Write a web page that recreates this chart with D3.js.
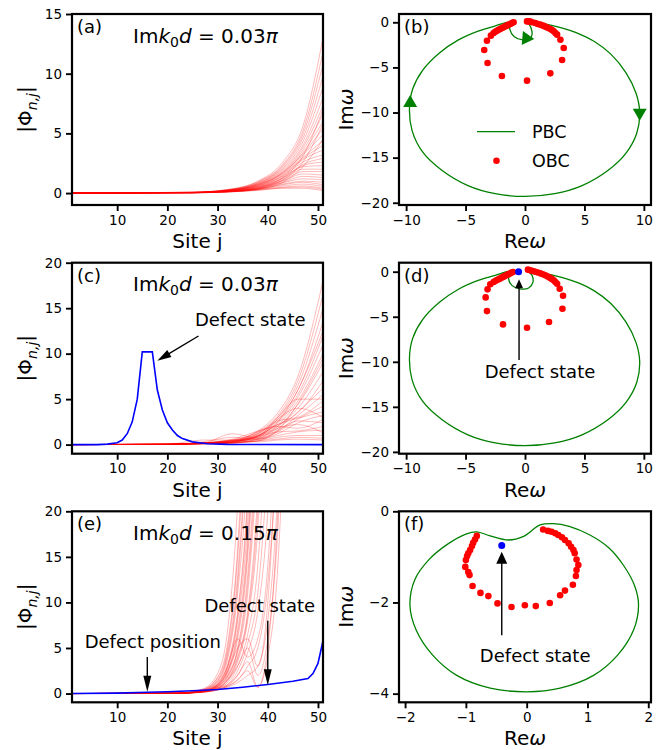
<!DOCTYPE html>
<html>
<head>
<meta charset="utf-8">
<script src="https://cdn.jsdelivr.net/npm/d3@7"></script>
<style>
  body { margin: 0; background: #fff; }
  text { font-family: "DejaVu Sans", sans-serif; }
</style>
</head>
<body>
<svg id="fig" width="665" height="750"></svg>
<script>
// ---------------- data ----------------

// (a) eigenvector profiles |Phi_{n,j}|, sampled at these sites
var sitesA = [1, 25, 32, 38, 43, 47, 51];
var redA = [
  [0, 0.08, 0.30, 1.00, 2.6, 5.6, 13.0],
  [0, 0.07, 0.28, 0.95, 2.4, 5.2, 11.8],
  [0, 0.07, 0.27, 0.90, 2.3, 4.9, 10.8],
  [0, 0.06, 0.26, 0.85, 2.2, 4.6, 9.8],
  [0, 0.06, 0.25, 0.80, 2.1, 4.3, 8.9],
  [0, 0.06, 0.24, 0.80, 2.0, 4.0, 8.0],
  [0, 0.05, 0.23, 0.75, 1.9, 3.8, 7.3],
  [0, 0.05, 0.22, 0.72, 1.8, 3.6, 6.6],
  [0, 0.05, 0.22, 0.70, 1.75, 3.4, 6.0],
  [0, 0.05, 0.21, 0.68, 1.7, 3.3, 5.4],
  [0, 0.05, 0.20, 0.65, 1.65, 3.2, 4.9],
  [0, 0.05, 0.20, 0.62, 1.6, 3.0, 4.4],
  [0, 0.04, 0.19, 0.60, 1.5, 2.9, 4.0],
  [0, 0.04, 0.18, 0.58, 1.45, 2.8, 3.6],
  [0, 0.04, 0.18, 0.55, 1.4, 2.6, 3.2],
  [0, 0.04, 0.17, 0.52, 1.3, 2.4, 2.9],
  [0, 0.04, 0.16, 0.50, 1.25, 2.3, 2.6],
  [0, 0.04, 0.16, 0.48, 1.2, 2.2, 2.3],
  [0, 0.04, 0.15, 0.45, 1.1, 2.0, 2.0],
  [0, 0.03, 0.15, 0.42, 1.05, 1.8, 1.8],
  [0, 0.03, 0.14, 0.40, 1.0, 1.6, 1.5],
  [0, 0.03, 0.13, 0.38, 0.9, 1.4, 1.3],
  [0, 0.03, 0.13, 0.36, 0.85, 1.2, 1.1],
  [0, 0.03, 0.12, 0.34, 0.75, 1.0, 0.9],
  [0, 0.03, 0.12, 0.32, 0.7, 0.9, 0.7],
  [0, 0.03, 0.11, 0.30, 0.6, 0.75, 0.55],
  [0, 0.03, 0.10, 0.28, 0.5, 0.6, 0.4],
  [0, 0.02, 0.10, 0.25, 0.45, 0.5, 0.3],
  [0, 0.02, 0.09, 0.22, 0.4, 0.4, 0.2],
  [0, 0.02, 0.09, 0.30, 0.9, 2.2, 4.5],
  [0, 0.02, 0.10, 0.35, 1.1, 2.6, 5.8],
  [0, 0.03, 0.12, 0.45, 1.3, 3.1, 7.0]
];

// (c)
var sitesC = [1, 20, 27, 33, 38, 42, 46, 51];
var redC = [
  [0, 0.05, 0.20, 0.50, 1.5, 3.5, 7.5, 18.0],
  [0, 0.05, 0.20, 0.50, 1.4, 3.2, 7.0, 16.5],
  [0, 0.05, 0.20, 0.45, 1.3, 3.0, 6.5, 15.0],
  [0, 0.05, 0.18, 0.45, 1.2, 2.8, 6.0, 13.5],
  [0, 0.05, 0.18, 0.40, 1.1, 2.6, 5.5, 12.0],
  [0, 0.04, 0.17, 0.40, 1.0, 2.4, 5.2, 11.0],
  [0, 0.04, 0.17, 0.38, 1.0, 2.2, 4.8, 10.0],
  [0, 0.04, 0.16, 0.36, 0.9, 2.0, 4.4, 9.0],
  [0, 0.04, 0.16, 0.35, 0.9, 2.0, 4.0, 8.0],
  [0, 0.04, 0.15, 0.60, 1.5, 2.2, 3.5, 7.0],
  [0, 0.04, 0.15, 0.33, 0.8, 1.8, 3.6, 6.2],
  [0, 0.04, 0.30, 0.80, 0.6, 1.5, 3.2, 5.5],
  [0, 0.04, 0.14, 0.30, 1.2, 2.6, 3.0, 4.8],
  [0, 0.03, 0.14, 1.20, 0.7, 1.4, 2.8, 4.2],
  [0, 0.03, 0.13, 0.28, 0.9, 2.2, 2.9, 3.6],
  [0, 0.03, 0.50, 0.50, 0.6, 1.2, 2.4, 3.2],
  [0, 0.03, 0.12, 0.26, 1.4, 2.0, 1.8, 2.8],
  [0, 0.03, 0.12, 0.25, 0.6, 1.6, 2.6, 2.4],
  [0, 0.03, 0.11, 0.24, 0.8, 1.4, 1.5, 2.0],
  [0, 0.03, 0.11, 0.22, 0.5, 1.0, 1.4, 1.6],
  [0, 0.03, 0.10, 0.20, 0.6, 1.8, 2.2, 1.3],
  [0, 0.02, 0.10, 0.20, 0.4, 0.8, 1.0, 1.0],
  [0, 0.02, 0.09, 0.18, 0.4, 0.6, 0.8, 0.7],
  [0, 0.02, 0.09, 0.50, 0.3, 0.5, 0.6, 0.5],
  [0, 0.02, 0.08, 0.15, 0.7, 2.8, 4.0, 3.0],
  [0, 0.02, 0.08, 0.15, 0.4, 1.6, 4.5, 9.5],
  [0, 0.03, 0.10, 0.25, 0.9, 3.0, 5.0, 5.0],
  [0, 0.03, 0.12, 0.30, 1.0, 2.5, 6.0, 12.5]
];
var blueCSites = [1, 6, 8, 10, 11, 12, 13, 14, 15, 16, 17, 18, 19, 20, 21, 22, 23, 25, 28, 32, 51];
var blueCVals  = [0, 0, 0.05, 0.2, 0.5, 1.2, 2.5, 5.0, 10.2, 10.2, 10.2, 6.0, 3.8, 2.4, 1.6, 1.0, 0.66, 0.3, 0.1, 0.02, 0];

// (e)
var sitesE = [1, 22, 27, 30, 32, 34, 36, 38, 40, 42, 44];
var redE = [
  [0, 0.05, 0.50, 2.2, 7.0, 21, 50, 90],
  [0, 0.05, 0.40, 1.8, 5.5, 16, 40, 80],
  [0, 0.05, 0.40, 1.5, 4.5, 13, 32, 70],
  [0, 0.05, 0.35, 1.3, 3.8, 11, 26, 60],
  [0, 0.04, 0.30, 1.2, 3.2, 9, 22, 50],
  [0, 0.04, 0.30, 1.0, 2.8, 8, 19, 45],
  [0, 0.04, 0.30, 1.0, 2.5, 7, 17, 40],
  [0, 0.04, 0.25, 0.9, 2.2, 6, 15, 35],
  [0, 0.04, 0.25, 0.8, 2.0, 5, 13, 30],
  [0, 0.03, 0.25, 0.8, 1.8, 4.5, 11, 26],
  [0, 0.03, 0.20, 0.7, 1.6, 4, 9, 22, 50],
  [0, 0.03, 0.20, 0.6, 1.4, 3.5, 8, 18, 40],
  [0, 0.03, 0.20, 0.6, 1.2, 3, 6.5, 14, 32],
  [0, 0.03, 0.20, 0.5, 1.0, 2.5, 5.5, 11, 25],
  [0, 0.03, 0.15, 0.5, 0.9, 2, 4.5, 9, 20, 45],
  [0, 0.03, 0.15, 0.4, 0.8, 1.5, 3, 5, 12, 28],
  [0, 0.03, 0.15, 0.4, 0.7, 1.2, 2, 3, 8, 22, 50],
  [0, 0.03, 0.15, 0.5, 1.5, 3, 5, 2, 6, 18, 45],
  [0, 0.03, 0.20, 0.8, 2.5, 5, 6, 3, 10, 30],
  [0, 0.03, 0.20, 0.6, 1.0, 2.0, 3.5, 0.7, 5, 20, 50],
  [0, 0.02, 0.15, 0.4, 0.8, 1.5, 2.5, 0.7, 4, 14, 40],
  [0, 0.04, 0.35, 1.4, 4.2, 12, 30, 65],
  [0, 0.04, 0.30, 1.1, 3.0, 8.5, 21, 48],
  [0, 0.04, 0.25, 0.9, 2.4, 6.5, 16, 38],
  [0, 0.05, 0.45, 1.7, 5.0, 15, 36, 75],
  [0, 0.03, 0.22, 0.75, 1.9, 4.8, 12, 28],
  [0, 0.03, 0.20, 0.65, 1.5, 3.8, 8.5, 20, 45],
  [0, 0.03, 0.25, 1.0, 3.0, 6, 4, 6, 14, 35]
];
var blueESites = [1, 10, 16, 20, 25, 30, 35, 40, 45, 48, 49, 50, 51];
var blueEVals  = [0, 0.05, 0.15, 0.2, 0.3, 0.45, 0.7, 1.0, 1.35, 1.65, 2.2, 3.3, 5.8];

// PBC spectra [Re w, Im w]
var pbcBig = [
  [0.3, 0.05], [1.5, -0.15], [3, -0.6], [4.5, -1.25], [5.8, -2.1], [7.2, -3.5], [8.5, -5.6],
  [9.35, -7.9], [9.65, -10.0], [9.4, -12.3], [8.5, -14.5], [7.0, -16.4], [4.8, -18.1],
  [2.5, -19.0], [0, -19.3], [-2.5, -19.0], [-4.8, -18.1], [-7.0, -16.4], [-8.6, -14.4],
  [-9.5, -12.0], [-9.72, -9.6], [-9.45, -7.4], [-8.6, -5.3], [-7.2, -3.4], [-5.6, -1.95],
  [-4.0, -1.0], [-2.5, -0.4], [-1.24, 0]
];
var pbcSmallB = [[-1.29, -0.74], [-0.9, -1.6], [-0.2, -1.95], [0.4, -1.85], [0.6, -1.3], [0.5, -0.6]];
var pbcSmallD = [[-1.38, -0.78], [-1.1, -1.52], [-0.45, -1.9], [0.31, -1.81], [0.67, -1.15], [0.59, -0.4]];
var pbcF = [
  [0.22, -0.30], [0.44, -0.27], [0.7, -0.33], [1.04, -0.52], [1.35, -0.8], [1.6, -1.2], [1.78, -1.65],
  [1.84, -2.06], [1.76, -2.6], [1.5, -3.15], [1.1, -3.6], [0.55, -3.88], [0, -3.96], [-0.6, -3.88],
  [-1.15, -3.6], [-1.55, -3.15], [-1.82, -2.6], [-1.92, -2.05], [-1.84, -1.5], [-1.6, -1.05],
  [-1.3, -0.72], [-1.0, -0.5], [-0.82, -0.45], [-0.6, -0.54], [-0.3, -0.63], [-0.05, -0.55]
];

// OBC spectra [Re w, Im w]
var obcB = [
  [-0.96, 0], [-1.1, -0.08], [-1.24, -0.19], [-1.38, -0.26], [-1.52, -0.37], [-1.66, -0.45], [-1.8, -0.56],
  [-1.94, -0.63], [-2.08, -0.74], [-2.22, -0.82], [-2.36, -0.93], [-2.5, -1.04], [-2.64, -1.19],
  [-2.87, -1.48], [-3.2, -2.04], [-3.43, -3.07], [-3.15, -4.51], [-1.94, -5.95], [0.17, -6.47],
  [2.13, -5.66], [3.12, -4.18], [3.26, -2.85], [2.98, -1.93], [2.7, -1.37], [2.56, -1.19], [2.42, -1.0],
  [2.28, -0.85], [2.13, -0.74], [1.91, -0.6], [1.71, -0.48], [1.52, -0.37], [1.29, -0.26], [1.07, -0.19],
  [0.87, -0.08], [0.59, 0.0], [0.45, 0.07], [0.31, 0.1], [0.17, 0.1]
];
var obcD = [
  [-1.01, -0.03], [-1.12, -0.1], [-1.24, -0.18], [-1.38, -0.27], [-1.52, -0.37], [-1.66, -0.46], [-1.8, -0.55],
  [-1.94, -0.64], [-2.08, -0.74], [-2.22, -0.83], [-2.36, -0.92], [-2.5, -1.03], [-2.64, -1.15],
  [-2.92, -1.4], [-3.15, -1.96], [-3.31, -2.85], [-3.2, -4.37], [-1.85, -5.85], [0.17, -6.22],
  [2.02, -5.59], [3.15, -4.11], [3.2, -2.67], [2.92, -1.89], [2.7, -1.33], [2.56, -1.15], [2.42, -0.96],
  [2.25, -0.8], [2.08, -0.66], [1.9, -0.53], [1.71, -0.4], [1.5, -0.29], [1.29, -0.18], [1.08, -0.09],
  [0.87, 0.0], [0.66, 0.08], [0.45, 0.15], [0.25, 0.23]
];
var obcF = [
  [-0.82, -0.54], [-0.85, -0.62], [-0.88, -0.69], [-0.9, -0.76], [-0.93, -0.85], [-0.96, -0.92],
  [-0.98, -0.98], [-1.0, -1.07], [-1.01, -1.22], [-0.96, -1.33], [-0.94, -1.4], [-0.89, -1.64],
  [-0.76, -1.79], [-0.63, -1.86], [-0.48, -2.02], [-0.25, -2.1], [-0.03, -2.06], [0.15, -2.08],
  [0.38, -2.01], [0.55, -1.84], [0.63, -1.74], [0.76, -1.61], [0.81, -1.42], [0.82, -1.29],
  [0.85, -1.18], [0.82, -1.06], [0.79, -0.92], [0.77, -0.85], [0.73, -0.78], [0.69, -0.7],
  [0.63, -0.63], [0.58, -0.57], [0.52, -0.52], [0.47, -0.48], [0.41, -0.45], [0.35, -0.43], [0.27, -0.4]
];
var defectD = [-0.54, 0.0];
var defectF = [-0.41, -0.75];

// tick values
var siteTicks = [10, 20, 30, 40, 50];
var ticksYA = [0, 5, 10, 15];
var ticksY20 = [0, 5, 10, 15, 20];
var ticksRe10 = [-10, -5, 0, 5, 10];
var ticksIm20 = [0, -5, -10, -15, -20];
var ticksRe2 = [-2, -1, 0, 1, 2];
var ticksIm4 = [0, -2, -4];

// ---------------- drawing ----------------
var svg = d3.select("#fig");
var fmt = function(d) { return d < 0 ? "\u2212" + Math.abs(d) : String(d); };

function makePanel(id, left, top, xdom, ydom, xt, yt) {
  var w = left < 200 ? 251 : 252, h = 191;
  var g = svg.append("g").attr("transform", "translate(" + left + "," + top + ")");
  var x = d3.scaleLinear().domain(xdom).range([0, w]);
  var y = d3.scaleLinear().domain(ydom).range([h, 0]);
  g.append("clipPath").attr("id", "clip-" + id)
    .append("rect").attr("width", w).attr("height", h);
  var plot = g.append("g").attr("clip-path", "url(#clip-" + id + ")");

  var ax = g.append("g").attr("transform", "translate(0," + h + ")")
    .call(d3.axisBottom(x).tickValues(xt).tickFormat(fmt).tickSize(6).tickPadding(4));
  var ay = g.append("g")
    .call(d3.axisLeft(y).tickValues(yt).tickFormat(fmt).tickSize(6).tickPadding(4));
  [ax, ay].forEach(function(a) {
    a.select(".domain").remove();
    a.selectAll("line").attr("stroke", "#000").attr("stroke-width", 1.9);
    a.selectAll("text").attr("font-size", 13.5).attr("fill", "#000")
      .attr("font-family", "DejaVu Sans");
  });
  return { g: g, plot: plot, x: x, y: y, w: w, h: h };
}

function frame(p) {
  p.g.append("rect").attr("width", p.w).attr("height", p.h)
    .attr("fill", "none").attr("stroke", "#000").attr("stroke-width", 2.2);
}

function panelLabel(p, s) {
  p.g.append("text").attr("x", 5).attr("y", 19).attr("font-size", 18).text(s);
}

function xLabelSite(p) {
  p.g.append("text").attr("x", p.w / 2).attr("y", p.h + 43).attr("text-anchor", "middle")
    .attr("font-size", 20).text("Site j");
}
function xLabelRe(p) {
  var t = p.g.append("text").attr("x", p.w / 2).attr("y", p.h + 43).attr("text-anchor", "middle")
    .attr("font-size", 20);
  t.append("tspan").text("Re");
  t.append("tspan").attr("font-style", "italic").text("\u03c9");
}
function yLabelPhi(p) {
  var t = p.g.append("text").attr("transform", "translate(-40," + (p.h / 2) + ") rotate(-90)")
    .attr("text-anchor", "middle").attr("font-size", 20);
  t.append("tspan").text("|\u03a6");
  t.append("tspan").attr("font-style", "italic").attr("font-size", 14).attr("dy", 5).text("n,j");
  t.append("tspan").attr("dy", -5).text("|");
}
function yLabelIm(p) {
  var t = p.g.append("text").attr("transform", "translate(-46," + (p.h / 2) + ") rotate(-90)")
    .attr("text-anchor", "middle").attr("font-size", 20);
  t.append("tspan").text("Im");
  t.append("tspan").attr("font-style", "italic").text("\u03c9");
}
function title(p, val) {
  var t = p.g.append("text").attr("x", 61).attr("y", 28.5).attr("font-size", 20);
  t.append("tspan").text("Im");
  t.append("tspan").attr("font-style", "italic").text("k");
  t.append("tspan").attr("font-size", 14).attr("dy", 4).text("0");
  t.append("tspan").attr("font-style", "italic").attr("dy", -4).text("d");
  t.append("tspan").text(" = " + val);
  t.append("tspan").attr("font-style", "italic").text("\u03c0");
}

function redLines(p, sites, rows) {
  var line = d3.line()
    .x(function(d) { return p.x(d[0]); })
    .y(function(d) { return p.y(d[1]); })
    .curve(d3.curveMonotoneX);
  p.plot.selectAll("path.red").data(rows).enter().append("path")
    .attr("class", "red")
    .attr("d", function(r) { return line(r.map(function(v, i) { return [sites[i], v]; })); })
    .attr("fill", "none").attr("stroke", "#ff0000").attr("stroke-opacity", 0.3)
    .attr("stroke-width", 0.9);
}
function blueLine(p, sites, vals) {
  var line = d3.line()
    .x(function(d, i) { return p.x(sites[i]); })
    .y(function(d) { return p.y(d); });
  p.plot.append("path").attr("d", line(vals))
    .attr("fill", "none").attr("stroke", "#0000ff").attr("stroke-width", 1.6);
}
function pbcPath(p, pts) {
  var line = d3.line()
    .x(function(d) { return p.x(d[0]); })
    .y(function(d) { return p.y(d[1]); })
    .curve(d3.curveCatmullRomClosed.alpha(0.5));
  p.plot.append("path").attr("d", line(pts))
    .attr("fill", "none").attr("stroke", "#008000").attr("stroke-width", 1.3);
}
function dots(p, pts, color, r) {
  p.plot.selectAll(null).data(pts).enter().append("circle")
    .attr("cx", function(d) { return p.x(d[0]); })
    .attr("cy", function(d) { return p.y(d[1]); })
    .attr("r", r).attr("fill", color);
}
function head(g, tx, ty, ang, len, wid, color) {
  g.append("path")
    .attr("d", "M0,0L" + (-len) + "," + (-wid / 2) + "L" + (-len) + "," + (wid / 2) + "Z")
    .attr("transform", "translate(" + tx + "," + ty + ") rotate(" + ang + ")")
    .attr("fill", color);
}
// annotation: text at (tx,ty) centered, arrow from a0 to tip a1, all data coords
function annotate(p, label, tx, ty, a0, a1, len, wid) {
  p.g.append("text").attr("x", p.x(tx)).attr("y", p.y(ty)).attr("text-anchor", "middle")
    .attr("font-size", 18).text(label);
  var x0 = p.x(a0[0]), y0 = p.y(a0[1]), x1 = p.x(a1[0]), y1 = p.y(a1[1]);
  var ang = Math.atan2(y1 - y0, x1 - x0);
  p.g.append("line").attr("x1", x0).attr("y1", y0)
    .attr("x2", x1 - Math.cos(ang) * len * 0.8).attr("y2", y1 - Math.sin(ang) * len * 0.8)
    .attr("stroke", "#000").attr("stroke-width", 1.4);
  head(p.g, x1, y1, ang * 180 / Math.PI, len, wid, "#000");
}

var L1 = 72, L2 = 399, T = [14, 262.7, 511.3];

// (a)
var pa = makePanel("a", L1, T[0], [1, 51], [-1, 15], siteTicks, ticksYA);
redLines(pa, sitesA, redA);
frame(pa); panelLabel(pa, "(a)"); title(pa, "0.03"); xLabelSite(pa); yLabelPhi(pa);

// (b)
var pb = makePanel("b", L2, T[0], [-10.6, 10.6], [-20.25, 0.92], ticksRe10, ticksIm20);
pbcPath(pb, pbcBig.concat(pbcSmallB));
dots(pb, obcB, "#ff0000", 3.3);
head(pb.plot, pb.x(-9.66), pb.y(-8.06), -90, 12, 14, "#008000");
head(pb.plot, pb.x(9.65), pb.y(-10.9), 90, 12, 14, "#008000");
head(pb.plot, pb.x(0.78), pb.y(-1.85), 5, 12, 14, "#008000");
frame(pb); panelLabel(pb, "(b)"); xLabelRe(pb); yLabelIm(pb);
// legend
pb.g.append("line").attr("x1", 78).attr("x2", 116).attr("y1", 117.7).attr("y2", 117.7)
  .attr("stroke", "#008000").attr("stroke-width", 1.3);
pb.g.append("circle").attr("cx", 97.5).attr("cy", 146.7).attr("r", 3.3).attr("fill", "#ff0000");
pb.g.append("text").attr("x", 133).attr("y", 124.3).attr("font-size", 17.5).text("PBC");
pb.g.append("text").attr("x", 133).attr("y", 152.7).attr("font-size", 17.5).text("OBC");

// (c)
var pc = makePanel("c", L1, T[1], [1, 51], [-1, 20], siteTicks, ticksY20);
redLines(pc, sitesC, redC);
blueLine(pc, blueCSites, blueCVals);
frame(pc); panelLabel(pc, "(c)"); title(pc, "0.03"); xLabelSite(pc); yLabelPhi(pc);
annotate(pc, "Defect state", 36.5, 13.04, [26.2, 11.94], [18.0, 9.23], 14, 8);

// (d)
var pd = makePanel("d", L2, T[1], [-10.6, 10.6], [-20.2, 1.0], ticksRe10, ticksIm20);
pbcPath(pd, pbcBig.concat(pbcSmallD));
dots(pd, obcD, "#ff0000", 3.3);
dots(pd, [defectD], "#0000ff", 3.5);
frame(pd); panelLabel(pd, "(d)"); xLabelRe(pd); yLabelIm(pd);
annotate(pd, "Defect state", 1.26, -11.83, [-0.5, -9.8], [-0.5, -0.84], 9, 8);

// (e)
var pe = makePanel("e", L1, T[2], [1, 51], [-0.96, 20], siteTicks, ticksY20);
redLines(pe, sitesE, redE);
blueLine(pe, blueESites, blueEVals);
frame(pe); panelLabel(pe, "(e)"); title(pe, "0.15"); xLabelSite(pe); yLabelPhi(pe);
annotate(pe, "Defect position", 17.1, 5.05, [16, 4.0], [16, 0.2], 16, 8);
annotate(pe, "Defect state", 38.4, 8.97, [40, 8.0], [40, 0.9], 16, 8);

// (f)
var pf = makePanel("f", L2, T[2], [-2.1, 2.045], [-4.19, 0], ticksRe2, ticksIm4);
pbcPath(pf, pbcF);
dots(pf, obcF, "#ff0000", 3.3);
dots(pf, [defectF], "#0000ff", 3.5);
frame(pf); panelLabel(pf, "(f)"); xLabelRe(pf); yLabelIm(pf);
annotate(pf, "Defect state", 0.14, -3.305, [-0.41, -2.72], [-0.41, -0.89], 12, 11);
</script>
</body>
</html>
